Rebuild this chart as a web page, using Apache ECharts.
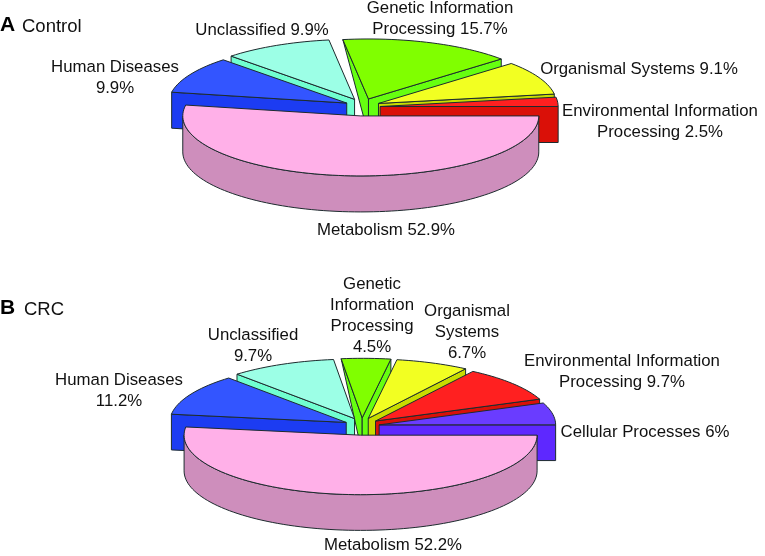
<!DOCTYPE html>
<html><head><meta charset="utf-8">
<style>html,body{margin:0;padding:0;background:#fff}#c{width:765px;height:556px}</style>
<script src="https://cdn.jsdelivr.net/npm/echarts@6/dist/echarts.min.js"></script>
</head><body><div id="c"></div>
<script>
// ---- data (slices run clockwise from east) ----
const controlCategories = ['Metabolism','Human Diseases','Unclassified','Genetic Information Processing','Organismal Systems','Environmental Information Processing'];
const controlValues = [52.9, 9.9, 9.9, 15.7, 9.1, 2.5];
const controlLabels = [['Metabolism 52.9%'],['Human Diseases','9.9%'],['Unclassified 9.9%'],['Genetic Information','Processing 15.7%'],['Organismal Systems 9.1%'],['Environmental Information','Processing 2.5%']];
const crcCategories = ['Metabolism','Human Diseases','Unclassified','Genetic Information Processing','Organismal Systems','Environmental Information Processing','Cellular Processes'];
const crcValues = [52.2, 11.2, 9.7, 4.5, 6.7, 9.7, 6];
const crcLabels = [['Metabolism 52.2%'],['Human Diseases','11.2%'],['Unclassified','9.7%'],['Genetic','Information','Processing','4.5%'],['Organismal','Systems','6.7%'],['Environmental Information','Processing 9.7%'],['Cellular Processes 6%']];

// ---- styles and layout ----
const palette = {
  'Metabolism':['#FFB0E8','#CE8EBC'],
  'Human Diseases':['#3355FF','#1C3CF2'],
  'Unclassified':['#9CFFE6','#70FFD0'],
  'Genetic Information Processing':['#80FF00','#66FF10'],
  'Organismal Systems':['#F2FF22','#C8DC00'],
  'Environmental Information Processing':['#FF2020','#DA1008'],
  'Cellular Processes':['#6A3CFF','#5E28FF']
};
const paintOrder = ['Genetic Information Processing','Unclassified','Organismal Systems','Environmental Information Processing','Cellular Processes','Human Diseases','Metabolism'];
const controlGeom = {cx:362.4, cy:107.2, rx:178, ry:60, depth:36};
const crcGeom = {cx:361.8, cy:426.5, rx:176.5, ry:59.5, depth:35.7};
const controlLabelPos = [[386,222],[115,59],[262,22],[440,0],[639,61],[660,103]];
const crcLabelPos = [[393,537],[119,372],[253,327],[372,276],[467,303],[622,353],[645,424]];
const explodeX = 0.1, explodeY = 0.146, lineH = 21, stroke = '#1d2b2e';
const font = '16.8px "Liberation Sans", Arial, sans-serif';

function rad(d){ return d*Math.PI/180; }
function panelSeries(cats, vals, labels, geom, labelPos){
  const total = vals.reduce((a,b)=>a+b,0);
  let acc = 0;
  const slices = vals.map((v,i)=>{ const a0 = acc/total*360; acc += v; return {name:cats[i],a0,a1:acc/total*360,label:labels[i],pos:labelPos[i],value:v}; });
  const ordered = paintOrder.map(n=>slices.find(s=>s.name===n)).filter(Boolean);
  const pt = (c,a)=>[c[0]+geom.rx*Math.cos(rad(a)), c[1]+geom.ry*Math.sin(rad(a))];
  const down = p=>[p[0],p[1]+geom.depth];
  const poly = (points,fill)=>({type:'polygon',shape:{points},style:{fill,stroke,lineWidth:1,lineJoin:'round'}});
  return {
    type:'custom', coordinateSystem:'none', silent:true, animation:false, clip:false,
    data: ordered.map(s=>({name:s.name,value:s.value})),
    renderItem(params){
      const s = ordered[params.dataIndex];
      const mid = (s.a0+s.a1)/2;
      const apex = [geom.cx+explodeX*geom.rx*Math.cos(rad(mid)), geom.cy+explodeY*geom.ry*Math.sin(rad(mid))];
      const [top,wall] = palette[s.name];
      const children = [];
      // rim of the slice, only where the rim faces the viewer
      const hi = Math.min(s.a1,180);
      if (s.a0 < 180) {
        const rim = [];
        for (let a=s.a0; a<hi; a+=2) rim.push(pt(apex,a));
        rim.push(pt(apex,hi));
        children.push(poly(rim.concat(rim.slice().reverse().map(down)),wall));
      }
      // flat cut faces
      const cut = a=>{
        const c = pt(apex,a);
        // a cut seen almost edge-on at the back tapers to its outer top corner
        const outer = (a>250 && a<270) ? c : down(c);
        children.push(poly([c,apex,down(apex),outer],wall));
      };
      if (s.a0>90 && s.a0<270) cut(s.a0);
      if (s.a1>270 && s.a1<=360) cut(s.a1);
      // top face
      const face = [apex];
      const n = Math.ceil((s.a1-s.a0)/2);
      for (let i=0;i<=n;i++) face.push(pt(apex,s.a0+(s.a1-s.a0)*i/n));
      children.push(poly(face,top));
      // label
      s.label.forEach((line,i)=>children.push({type:'text',z2:50,style:{text:line,x:s.pos[0],y:s.pos[1]+i*lineH,align:'center',verticalAlign:'top',font,fill:'#111'}}));
      return {type:'group',children};
    }
  };
}

const chart = echarts.init(document.getElementById('c'),null,{renderer:'canvas'});
chart.setOption({
  animation:false, backgroundColor:'#fff',
  graphic:[
    {type:'text',left:0,top:15,style:{text:'A',font:'bold 21px "Liberation Sans", Arial, sans-serif',fill:'#000'}},
    {type:'text',left:22,top:17,style:{text:'Control',font:'18.5px "Liberation Sans", Arial, sans-serif',fill:'#111'}},
    {type:'text',left:0,top:298,style:{text:'B',font:'bold 21px "Liberation Sans", Arial, sans-serif',fill:'#000'}},
    {type:'text',left:24,top:300,style:{text:'CRC',font:'18.5px "Liberation Sans", Arial, sans-serif',fill:'#111'}}
  ],
  series:[
    panelSeries(controlCategories,controlValues,controlLabels,controlGeom,controlLabelPos),
    panelSeries(crcCategories,crcValues,crcLabels,crcGeom,crcLabelPos)
  ]
});
</script></body></html>
